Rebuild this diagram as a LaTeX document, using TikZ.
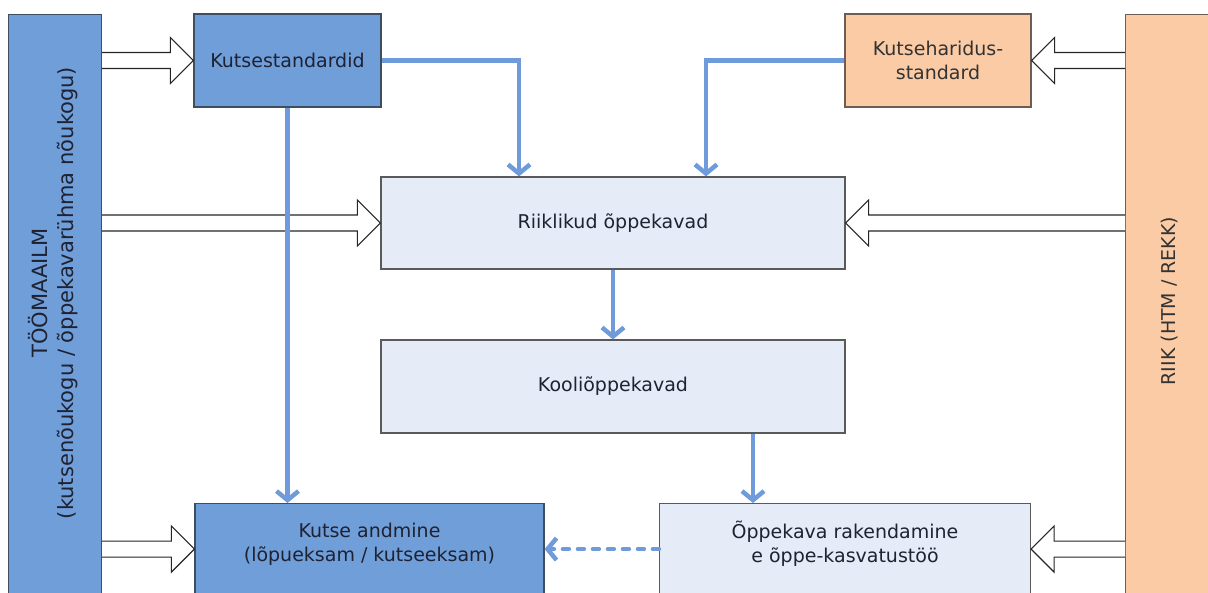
\documentclass[tikz,border=0pt]{standalone}
\usepackage{fontspec}
\setmainfont{DejaVu Sans}
\usetikzlibrary{arrows.meta,calc}

\definecolor{workblue}{HTML}{709ED9}
\definecolor{statepeach}{HTML}{FACBA5}
\definecolor{paleblue}{HTML}{E6ECF7}
\definecolor{flowblue}{HTML}{6F9BDB}
\definecolor{darkedge}{HTML}{3E4D60}
\definecolor{greyedge}{HTML}{5A5A5A}
\definecolor{brownedge}{HTML}{6E5D52}
\definecolor{inktext}{HTML}{1E2233}

\tikzset{
	every node/.style={font=\fontsize{19}{24}\selectfont, text=inktext},
	workbox/.style={draw=darkedge, fill=workblue, line width=1.2pt, align=center, inner sep=0pt},
	statebox/.style={draw=brownedge, fill=statepeach, line width=1.2pt, align=center, inner sep=0pt},
	planbox/.style={draw=greyedge, fill=paleblue, line width=1.2pt, align=center, inner sep=0pt},
	hollow/.style={draw=black!85, fill=white, line width=1.1pt},
	flow/.style={draw=flowblue, line width=4.5pt, -{Straight Barb[length=9pt,width=22pt]}},
	flowdash/.style={flow, line cap=round, dash pattern=on 6pt off 9pt}
}

% hollow block arrow: #1 start, #2 tip, #3 direction (1 right, -1 left)
\newcommand{\blockarrow}[3]{%
	\draw[hollow] let \p1=(#1), \p2=(#2) in
		(\x1,{\y2+8pt}) -- ({\x2-(#3)*23pt},{\y2+8pt}) -- ({\x2-(#3)*23pt},{\y2+23pt})
		-- (\x2,\y2) -- ({\x2-(#3)*23pt},{\y2-23pt}) -- ({\x2-(#3)*23pt},{\y2-8pt}) -- (\x1,{\y2-8pt});}

\begin{document}
\begin{tikzpicture}[x=1pt, y=-1pt]
	\useasboundingbox (0,0) rectangle (1208,593);
	
	% side bars
	\node[workbox, minimum width=93, minimum height=590, anchor=north west] (tooma) at (8,14) {};
	\node[statebox, minimum width=90, minimum height=590, anchor=north west] (riik) at (1125,14) {};
	\node[rotate=90, align=center, font=\fontsize{21}{26}\selectfont] (toomatxt) at (53,293) {TÖÖMAAILM\\(kutsenõukogu / õppekavarühma nõukogu)};
	\node[rotate=90, text=black!80] (riiktxt) at (1170,301) {RIIK (HTM / REKK)};
	
	% boxes
	\node[workbox, minimum width=187, minimum height=93] (kstd) at (287.5,60.5) {Kutsestandardid};
	\node[statebox, minimum width=186, minimum height=93, text=black!80] (khst) at (938,60.5) {Kutseharidus-\\standard};
	\node[planbox, minimum width=464, minimum height=92] (rok) at (613,223) {Riiklikud õppekavad};
	\node[planbox, minimum width=464, minimum height=93] (kok) at (613,386.5) {Kooliõppekavad};
	\node[workbox, minimum width=349, minimum height=97, anchor=north,
		label={[align=center, yshift=8pt]center:{Kutse andmine\\(lõpueksam / kutseeksam)}}] (kutse) at (369.5,503) {};
	\node[planbox, minimum width=371, minimum height=97, anchor=north,
		label={[align=center, yshift=8pt]center:{Õppekava rakendamine\\e õppe-kasvatustöö}}] (opk) at (845,503) {};
	
	% hollow arrows
	\coordinate (kutsein) at ([yshift=3pt]kutse.west);
	\coordinate (opkin) at ([yshift=3pt]opk.east);
	\blockarrow{tooma.east |- kstd.west}{kstd.west}{1}
	\blockarrow{tooma.east |- rok.west}{rok.west}{1}
	\blockarrow{tooma.east |- kutsein}{kutsein}{1}
	\blockarrow{riik.west |- khst.east}{khst.east}{-1}
	\blockarrow{riik.west |- rok.east}{rok.east}{-1}
	\blockarrow{riik.west |- opkin}{opkin}{-1}
	
	% flow arrows
	\draw[flow] (kstd.east) -| ([xshift=-94pt]rok.north);
	\draw[flow] (khst.west) -| ([xshift=93pt]rok.north);
	\draw[flow] (rok.south) -- (kok.north);
	\draw[flow] ([xshift=140pt]kok.south) -- ([xshift=140pt]kok.south |- opk.north);
	\draw[flow] (kstd.south) -- (kstd.south |- kutse.north);
	\draw[flowdash] ([yshift=3pt]opk.west) -- ([yshift=3pt]kutse.east);
	
\end{tikzpicture}
\end{document}
